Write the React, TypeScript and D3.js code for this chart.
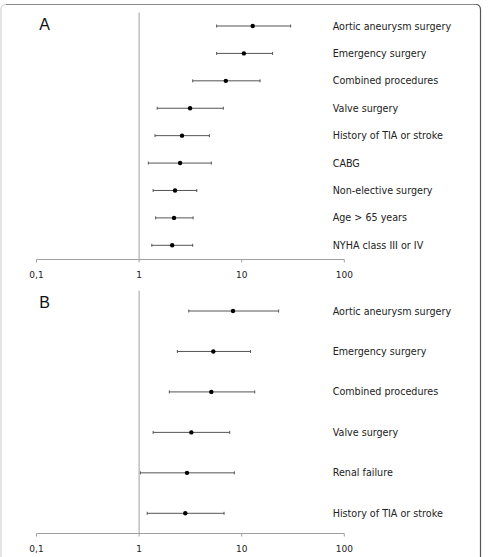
import React from "react";
import * as d3 from "d3";

const width = 491;
const height = 557;

// Panel A: odds ratios with 95% CI
const labelsA = [
  "Aortic aneurysm surgery",
  "Emergency surgery",
  "Combined procedures",
  "Valve surgery",
  "History of TIA or stroke",
  "CABG",
  "Non-elective surgery",
  "Age > 65 years",
  "NYHA class III or IV",
];
const orA = [12.8, 10.5, 7.0, 3.14, 2.62, 2.51, 2.24, 2.19, 2.1];
const lowA = [5.7, 5.7, 3.33, 1.5, 1.43, 1.23, 1.37, 1.45, 1.33];
const highA = [30.0, 20.0, 15.1, 6.62, 4.84, 5.06, 3.65, 3.36, 3.33];

// Panel B
const labelsB = [
  "Aortic aneurysm surgery",
  "Emergency surgery",
  "Combined procedures",
  "Valve surgery",
  "Renal failure",
  "History of TIA or stroke",
];
const orB = [8.23, 5.29, 5.06, 3.23, 2.93, 2.82];
const lowB = [3.05, 2.36, 1.97, 1.37, 1.03, 1.2];
const highB = [22.9, 12.2, 13.4, 7.64, 8.47, 6.73];

const ticks = [0.1, 1, 10, 100];
const tickLabels = ["0,1", "1", "10", "100"];

const x = d3.scaleLog().domain([0.1, 100]).range([36.5, 344.3]);
const labelX = 332.7;
const font = "'DejaVu Sans', Verdana, sans-serif";

type PanelProps = {
  letter: string;
  labels: string[];
  or: number[];
  low: number[];
  high: number[];
  top: number;
  firstRow: number;
  lastRow: number;
  axisY: number;
};

function Panel({ letter, labels, or, low, high, top, firstRow, lastRow, axisY }: PanelProps) {
  const y = d3.scalePoint<string>().domain(labels).range([firstRow, lastRow]);
  return (
    <g>
      <text x={44.5} y={top + 11.5} fontFamily="'Liberation Sans', Arial, sans-serif" fontSize={16} textAnchor="middle" dominantBaseline="central" fill="#111">
        {letter}
      </text>
      {/* reference line at OR = 1 */}
      <line x1={x(1)} x2={x(1)} y1={top} y2={axisY} stroke="#a0a0a0" strokeWidth={1} />
      {/* axis */}
      <line x1={x(0.1)} x2={x(100)} y1={axisY} y2={axisY} stroke="#a0a0a0" strokeWidth={1} />
      {ticks.map((t, i) => (
        <g key={t}>
          <line x1={x(t)} x2={x(t)} y1={axisY} y2={axisY + 3} stroke="#a0a0a0" strokeWidth={1} />
          <text x={x(t)} y={axisY + 15.5} fontFamily={font} fontSize={9} textAnchor="middle" dominantBaseline="central" fill="#222">
            {tickLabels[i]}
          </text>
        </g>
      ))}
      {labels.map((lab, i) => {
        const cy = y(lab) as number;
        return (
          <g key={lab}>
            <line x1={x(low[i])} x2={x(high[i])} y1={cy} y2={cy} stroke="#555" strokeWidth={1} />
            <line x1={x(low[i])} x2={x(low[i])} y1={cy - 1.5} y2={cy + 1.5} stroke="#555" strokeWidth={1} />
            <line x1={x(high[i])} x2={x(high[i])} y1={cy - 1.5} y2={cy + 1.5} stroke="#555" strokeWidth={1} />
            <circle cx={x(or[i])} cy={cy} r={2.2} fill="#000" />
            <text x={labelX} y={cy} fontFamily={font} fontSize={9.6} dominantBaseline="central" fill="#222">
              {lab}
            </text>
          </g>
        );
      })}
    </g>
  );
}

export default function App() {
  return (
    <svg width={width} height={height} style={{ position: "absolute", left: 0, top: 0, background: "#fff" }}>
      {/* outer frame, rounded at the top */}
      <path d={`M1,${height} L1,9.5 Q1,4.5 6,4.5`} fill="none" stroke="#c8c8c8" strokeWidth={1} />
      <line x1={6} x2={475.5} y1={4.5} y2={4.5} stroke="#888" strokeWidth={1} />
      <path d={`M475.5,4.5 Q480.5,4.5 480.5,9.5 L480.5,${height}`} fill="none" stroke="#555" strokeWidth={1.2} />
      <Panel letter="A" labels={labelsA} or={orA} low={lowA} high={highA} top={12.7} firstRow={26} lastRow={245.3} axisY={259.5} />
      <Panel letter="B" labels={labelsB} or={orB} low={lowB} high={highB} top={290.7} firstRow={311} lastRow={513.3} axisY={533.5} />
    </svg>
  );
}
